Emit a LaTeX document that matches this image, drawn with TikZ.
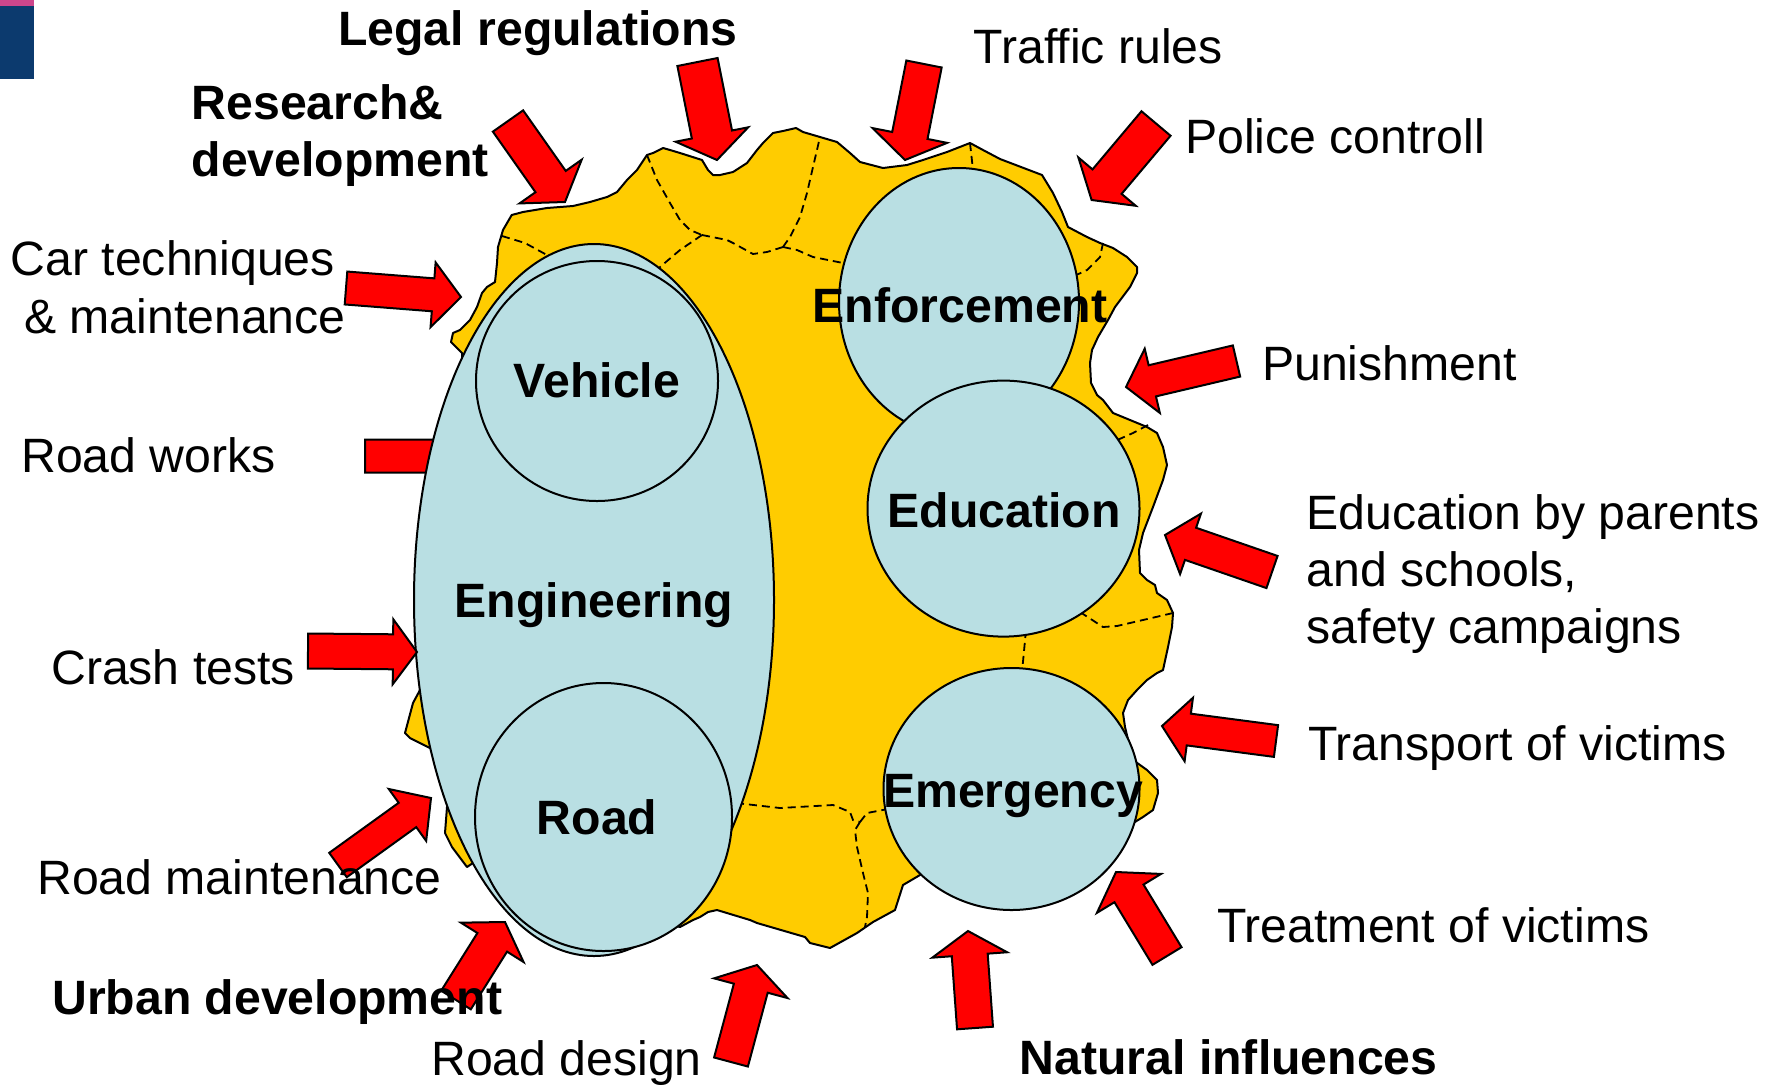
\documentclass[tikz,border=0pt]{standalone}
\usepackage{fontspec}
\setmainfont{Liberation Sans}
\usetikzlibrary{calc}
\definecolor{blobyellow}{RGB}{255,204,0}
\definecolor{elblue}{RGB}{185,223,227}
\definecolor{arred}{RGB}{255,0,0}
\definecolor{navyblue}{RGB}{12,58,110}
\definecolor{pinkbar}{RGB}{205,70,140}
\newcommand{\blockarrow}[6]{%
  \coordinate (#1-tail) at #2;
  \coordinate (#1-tip) at #3;
  \coordinate (#1-base) at ($(#1-tip)!#6!(#1-tail)$);
  \draw[arrowsty] ($(#1-tail)!#4!90:(#1-tip)$) -- ($(#1-base)!#4!-90:(#1-tail)$) -- ($(#1-base)!#5!-90:(#1-tail)$) -- (#1-tip) -- ($(#1-base)!#5!90:(#1-tail)$) -- ($(#1-base)!#4!90:(#1-tail)$) -- ($(#1-tail)!#4!-90:(#1-tip)$) -- cycle;
}
\tikzset{
  lab/.style={font=\fontsize{48.2}{57}\selectfont, inner sep=0pt, anchor=base west},
  blab/.style={font=\fontsize{48.2}{57}\selectfont\bfseries, inner sep=0pt, anchor=base west},
  inlab/.style={font=\fontsize{48.2}{57}\selectfont\bfseries, inner sep=0pt, anchor=base},
  blobsty/.style={fill=blobyellow, draw=black, line width=2pt, line join=round},
  ellsty/.style={fill=elblue, draw=black, line width=2pt},
  dashsty/.style={draw=black, line width=1.8pt, dash pattern=on 8pt off 5pt},
  arrowsty/.style={fill=arred, draw=black, line width=2pt, line join=miter},
}
\begin{document}
\begin{tikzpicture}[x=1pt, y=-1pt]
\useasboundingbox (0,0) rectangle (1776,1085);
% corner decoration
\fill[navyblue] (0,0) rectangle (34,79);
\fill[pinkbar] (0,0) rectangle (34,6);
% yellow blob
\path[blobsty] (511.7,215) -- (523,212) -- (547,208) -- (573,206) -- (590,202) -- (607,197) -- (617,192) -- (627,180) -- (637,170) -- (647,155) -- (653,153) -- (663,148) -- (670,150) -- (680,153) -- (702,160) -- (708,170) -- (713,175) -- (720,175) -- (733,172) -- (747,163) -- (757,150) -- (763,143) -- (773,133) -- (783,131) -- (796,128) -- (803,132) -- (820,137) -- (837,142) -- (850,153) -- (860,162) -- (883,168) -- (907,165) -- (923,160) -- (947,152) -- (970,143) -- (983,150) -- (1000,159)
 -- (1042,175) -- (1053,193) -- (1062,212) -- (1068,227) -- (1087,237) -- (1100,243) -- (1113,248) -- (1127,257) -- (1137,267) -- (1137,273) -- (1130,287) -- (1115,307) -- (1108,320) -- (1098,337) -- (1092,350) -- (1090,363) -- (1091,383) -- (1097,395) -- (1103,400) -- (1113,413) -- (1130,420) -- (1147,427) -- (1157,433) -- (1163,447) -- (1167,465) -- (1163,480) -- (1153,507) -- (1143,533) -- (1139,550) -- (1140,573) -- (1147,580) -- (1155,585) -- (1157,593) -- (1167,600) -- (1173,613) -- (1172,627) -- (1168,647) -- (1163,670) -- (1157,673) -- (1147,680) -- (1137,690) -- (1128,700) -- (1123,713) -- (1125,727) -- (1133,760) -- (1147,770) -- (1157,780) -- (1158,793) -- (1153,810) -- (1143,817) -- (1130,825) -- (1000,860) -- (925,872)
 -- (920,875) -- (903,885) -- (895,910) -- (873,922) -- (857,933) -- (830,948) -- (810,943) -- (805,937) -- (757,923) -- (750,920) -- (717,910) -- (708,912) -- (700,917) -- (693,920) -- (680,927) -- (640,915) -- (490,860) -- (473,863) -- (467,867) -- (452,847) -- (445,833) -- (447,807) -- (470,780) -- (430,748) -- (410,738) -- (405,733) -- (413,703) -- (420,690) -- (470,600) -- (462,353) -- (451,342) -- (453,333) -- (460,330) -- (470,320) -- (477,307) -- (482,293) -- (487,287) -- (495,282) -- (497,263) -- (498,247) -- (503,230) -- cycle;
% dashed borders
\draw[dashsty] (502,236) -- (525,243) -- (547,255) -- (556,263);
\draw[dashsty] (647,155) -- (657,180) -- (670,203) -- (680,220) -- (690,230) -- (702,235);
\draw[dashsty] (702,235) -- (680,250) -- (660,267) -- (652,276);
\draw[dashsty] (702,235) -- (727,240) -- (733,243) -- (753,254) -- (767,252) -- (783,247);
\draw[dashsty] (783,247) -- (797,250) -- (813,257) -- (848,264);
\draw[dashsty] (783,247) -- (790,237) -- (800,217) -- (807,193) -- (813,167) -- (820,137);
\draw[dashsty] (970,143) -- (973,170);
\draw[dashsty] (1103,243) -- (1100,257) -- (1087,270) -- (1072,277);
\draw[dashsty] (1148,425) -- (1133,433) -- (1115,441);
\draw[dashsty] (1080,612) -- (1103,627) -- (1117,626) -- (1143,620) -- (1173,613);
\draw[dashsty] (1026,630) -- (1022,672);
\draw[dashsty] (736,803) -- (780,808) -- (833,805) -- (850,812) -- (853,820) -- (860,822);
\draw[dashsty] (860,822) -- (867,813) -- (888,809);
\draw[dashsty] (860,822) -- (855,830) -- (857,847) -- (863,873) -- (868,893) -- (867,917) -- (865,927);
% arrow behind the big ellipse
\blockarrow{roadworks}{(365,456)}{(492,456)}{16.5pt}{32.5pt}{28pt}
% ellipses
\path[ellsty] (594,600) coordinate (engc) ellipse [x radius=180pt, y radius=356pt];
\path[ellsty] (597,381) coordinate (vehc) ellipse [x radius=121pt, y radius=120pt];
\path[ellsty] (603.5,817) coordinate (roadc) ellipse [x radius=128.5pt, y radius=134pt];
\path[ellsty] (959,302) coordinate (enfc) ellipse [x radius=120pt, y radius=134pt];
\path[ellsty] (1003.5,508.6) coordinate (educ) ellipse [x radius=136pt, y radius=128pt];
\path[ellsty] (1011.5,789) coordinate (emc) ellipse [x radius=128pt, y radius=121pt];
% inner labels
\node[inlab] (tenf) at (960,322) {Enforcement};
\node[inlab] (tveh) at (597,397) {Vehicle};
\node[inlab] (tedu) at (1004,527) {Education};
\node[inlab] (teng) at (594,617) {Engineering};
\node[inlab] (troad) at (597,834) {Road};
\node[inlab] (temg) at (1013,807) {Emergency};
% arrows
\blockarrow{legal}{(697.5,62)}{(717,160)}{20.5pt}{37pt}{26pt}
\blockarrow{research}{(508,121)}{(565,202)}{18.5pt}{38pt}{25pt}
\blockarrow{traffic}{(924,64)}{(905,160)}{18pt}{38pt}{25pt}
\blockarrow{police}{(1156,123.5)}{(1091.6,200)}{19pt}{37.5pt}{24pt}
\blockarrow{car}{(346,288)}{(461,297)}{16.5pt}{32.5pt}{28pt}
\blockarrow{punish}{(1236.5,361)}{(1126,387)}{16pt}{33pt}{27pt}
\blockarrow{eduparents}{(1272,572)}{(1165,535)}{17pt}{32pt}{27pt}
\blockarrow{crash}{(308,651)}{(417,652)}{17.5pt}{32.5pt}{24pt}
\blockarrow{transport}{(1276,741)}{(1162,726)}{16pt}{32pt}{27pt}
\blockarrow{roadmaint}{(338,865)}{(431,798)}{15pt}{32pt}{29pt}
\blockarrow{urban}{(456,1000)}{(505,922)}{17.5pt}{37pt}{24pt}
\blockarrow{roaddesign}{(731,1062)}{(757,965)}{17.5pt}{38pt}{24pt}
\blockarrow{natural}{(975,1028)}{(968,931)}{18pt}{37.5pt}{24pt}
\blockarrow{treatment}{(1167,956)}{(1116,872)}{17pt}{37.5pt}{25pt}
% outer labels
\node[blab] (tlegal) at (338,45) {Legal regulations};
\node[blab] (tres1) at (191.5,119) {Research\&};
\node[blab] (tres2) at (191.5,176) {development};
\node[lab] (tcar1) at (10.5,275) {Car techniques};
\node[lab] (tcar2) at (24,333) {\& maintenance};
\node[lab] (ttraffic) at (973.5,63) {Traffic rules};
\node[lab] (tpolice) at (1185,153) {Police controll};
\node[lab] (tpunish) at (1262,380) {Punishment};
\node[lab] (tworks) at (21,472) {Road works};
\node[lab] (tepar1) at (1306.5,529) {Education by parents};
\node[lab] (tepar2) at (1306.5,586) {and schools,};
\node[lab] (tepar3) at (1306.5,643) {safety campaigns};
\node[lab] (tcrash) at (51,684) {Crash tests};
\node[lab] (ttransport) at (1308,760) {Transport of victims};
\node[lab] (tmaint) at (37,894) {Road maintenance};
\node[lab] (ttreat) at (1217,942) {Treatment of victims};
\node[blab] (turban) at (52,1014) {Urban development};
\node[lab] (tdesign) at (431,1075) {Road design};
\node[blab] (tnatural) at (1019.5,1074) {Natural influences};
\end{tikzpicture}
\end{document}
